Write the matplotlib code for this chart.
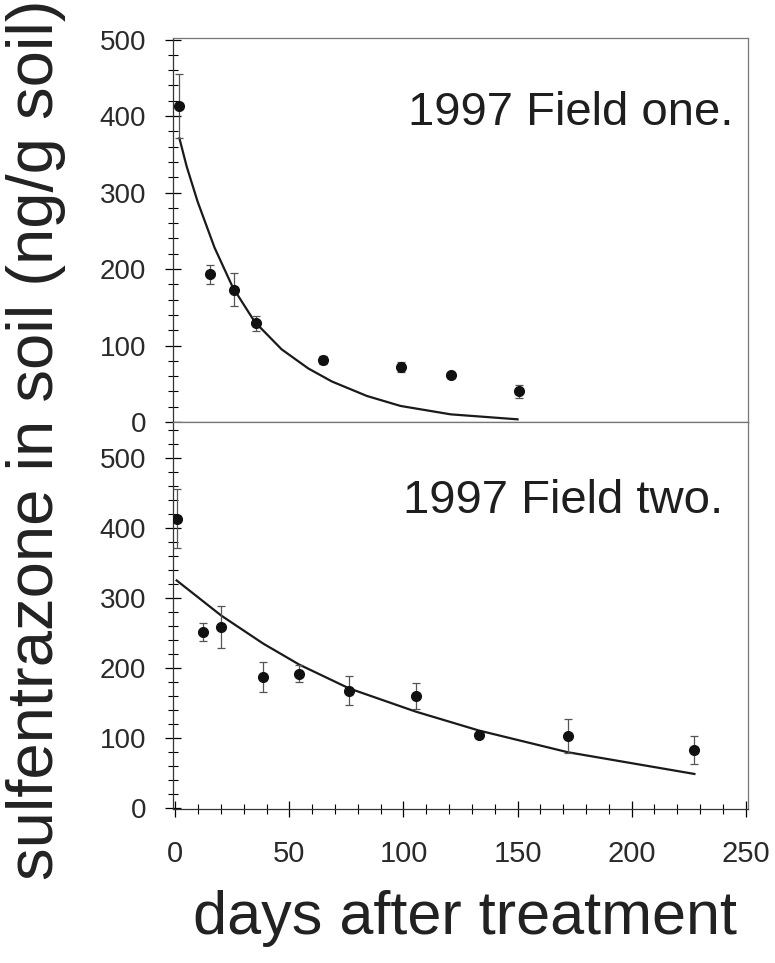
import matplotlib
matplotlib.use("Agg")
from matplotlib import pyplot as plt
from matplotlib.ticker import MultipleLocator

# 1997 Field one: measured points (days, ng/g) and std error
days_one = [1.8, 15.4, 25.6, 35.2, 64.9, 99.1, 121.0, 150.8]
conc_one = [413, 193, 173, 129, 81, 72, 61, 40]
err_one = [42, 12, 22, 10, 5, 6, 4, 8]

# fitted curve for field one
fit_days_one = [1.8, 5.0, 9.8, 17.2, 25.2, 34.8, 46.6, 58.3, 68.6, 84.0, 98.7, 120.7, 150.0]
fit_conc_one = [371, 334, 288, 228, 176, 131, 95, 70, 53, 34, 21, 10, 3.5]

# 1997 Field two
days_two = [0.6, 12.0, 20.1, 38.5, 54.3, 76.2, 105.3, 133.2, 172.1, 227.5]
conc_two = [413, 251, 259, 187, 192, 168, 160, 104, 103, 83]
err_two = [42, 13, 30, 21, 12, 21, 19, 4, 24, 20]

fit_days_two = [0.6, 20.1, 38.5, 54.3, 76.2, 105.3, 133.0, 172.0, 227.5]
fit_conc_two = [325, 275, 235, 205, 171, 138, 111, 80, 49]

x_ticks = [0, 50, 100, 150, 200, 250]
y_ticks = [0, 100, 200, 300, 400, 500]

plt.rcParams['font.family'] = ['Liberation Sans', 'DejaVu Sans']


def style_axis(ax, ylim):
    ax.set_xlim(-1, 251)
    ax.set_ylim(*ylim)
    ax.set_yticks(y_ticks)
    ax.yaxis.set_minor_locator(MultipleLocator(20))
    ax.tick_params(axis='y', which='major', direction='inout', length=11,
                   width=0.9, labelsize=20, labelcolor='#2a2a2a', pad=14,
                   right=False)
    ax.tick_params(axis='y', which='minor', direction='inout', length=7,
                   width=0.8, right=False)
    for s in ax.spines.values():
        s.set_linewidth(0.9)
        s.set_color('#333333')
    ax.spines['right'].set_color('#777777')
    ax.spines['top'].set_color('#777777')


def draw(ax, days, conc, err, fdays, fconc):
    ax.plot(fdays, fconc, color='#1a1a1a', lw=1.6, zorder=2)
    ax.errorbar(days, conc, yerr=err, fmt='none', ecolor='#555555',
                elinewidth=0.9, capsize=3, capthick=0.9, zorder=3)
    ax.plot(days, conc, 'o', color='#111111', ms=7, zorder=4)


fig = plt.figure(figsize=(7.75, 9.63), dpi=100)
ax1 = fig.add_axes([173 / 775, 1 - 422 / 963, 575 / 775, 384 / 963])
ax2 = fig.add_axes([173 / 775, 1 - 809 / 963, 575 / 775, 387 / 963])

draw(ax1, days_one, conc_one, err_one, fit_days_one, fit_conc_one)
draw(ax2, days_two, conc_two, err_two, fit_days_two, fit_conc_two)

style_axis(ax1, (0, 502))
style_axis(ax2, (-1, 551))

ax1.tick_params(axis='x', which='both', bottom=False, top=False, labelbottom=False)
ax2.set_xticks(x_ticks)
ax2.xaxis.set_minor_locator(MultipleLocator(10))
ax2.tick_params(axis='x', which='major', direction='inout', length=11, width=0.9,
                labelsize=21, labelcolor='#2a2a2a', pad=17, top=False)
ax2.tick_params(axis='x', which='minor', direction='inout', length=7, width=0.8,
                top=False)

fig.text(733 / 775, 1 - 125 / 963, '1997 Field one.', ha='right', va='baseline',
         fontsize=34, color='#1e1e1e')
fig.text(723 / 775, 1 - 513 / 963, '1997 Field two.', ha='right', va='baseline',
         fontsize=34, color='#1e1e1e')

fig.text(36 / 775, 1 - 440 / 963, 'sulfentrazone in soil (ng/g soil)', rotation=90,
         ha='center', va='center', fontsize=47, color='#222222')
fig.text(465 / 775, 1 - 934 / 963, 'days after treatment', ha='center',
         va='baseline', fontsize=44, color='#222222')

fig.savefig('out.png', dpi=100)
